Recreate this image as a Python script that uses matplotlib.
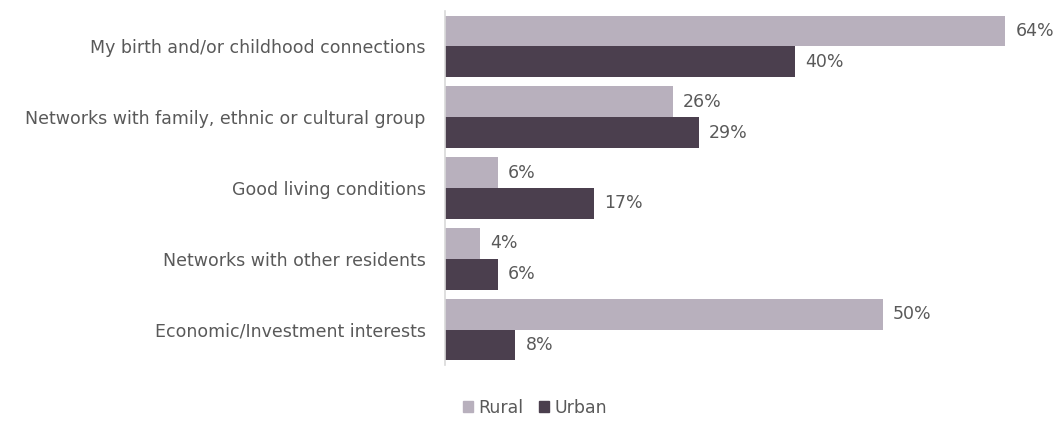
import matplotlib
matplotlib.use("Agg")
import matplotlib.pyplot as plt
from matplotlib.patches import Patch
import numpy as np

categories = [
    "My birth and/or childhood connections",
    "Networks with family, ethnic or cultural group",
    "Good living conditions",
    "Networks with other residents",
    "Economic/Investment interests",
]
rural = [64, 26, 6, 4, 50]
urban = [40, 29, 17, 6, 8]
series_names = ["Rural", "Urban"]

rural_color = "#b8b0bd"
urban_color = "#4b3f4e"
text_color = "#595959"

plt.rcParams["font.family"] = ["DejaVu Sans"]

fig = plt.figure(figsize=(10.58, 4.21), dpi=100)
W, H = 1058, 421
left_px, right_px = 445, 1050
top_px, bottom_px = 11, 365
ax = fig.add_axes([left_px / W, 1 - bottom_px / H,
                   (right_px - left_px) / W, (bottom_px - top_px) / H])

px_per_unit = 8.75
ax.set_xlim(0, (right_px - left_px) / px_per_unit)

y = np.arange(len(categories))
h = 0.435
ax.barh(y - h / 2, rural, height=h, color=rural_color, label=series_names[0])
ax.barh(y + h / 2, urban, height=h, color=urban_color, label=series_names[1])
ax.set_ylim(len(categories) - 0.5, -0.5)

fs = 12.5
for vals, offs in ((rural, -h / 2), (urban, h / 2)):
    for i, v in enumerate(vals):
        ax.annotate(f"{v}%", xy=(v, i + offs), xytext=(7.5, 0),
                    textcoords="offset points", va="center", ha="left",
                    fontsize=fs, color=text_color, annotation_clip=False)

ax.set_yticks(y)
ax.set_yticklabels(categories, fontsize=fs, color=text_color)
ax.tick_params(axis="y", length=0, pad=14)
ax.set_xticks([])
for s in ("top", "right", "bottom"):
    ax.spines[s].set_visible(False)
ax.spines["left"].set_color("#d9d9d9")
ax.spines["left"].set_linewidth(1.2)

handles = [Patch(color=rural_color), Patch(color=urban_color)]
fig.legend(handles, series_names, loc="center", bbox_to_anchor=(535 / W, 1 - 408 / H),
           ncol=2, frameon=False, fontsize=fs, handlelength=0.6, handleheight=0.6,
           handletextpad=0.3, columnspacing=0.9, labelcolor=text_color)

fig.savefig("out.png", dpi=100)
